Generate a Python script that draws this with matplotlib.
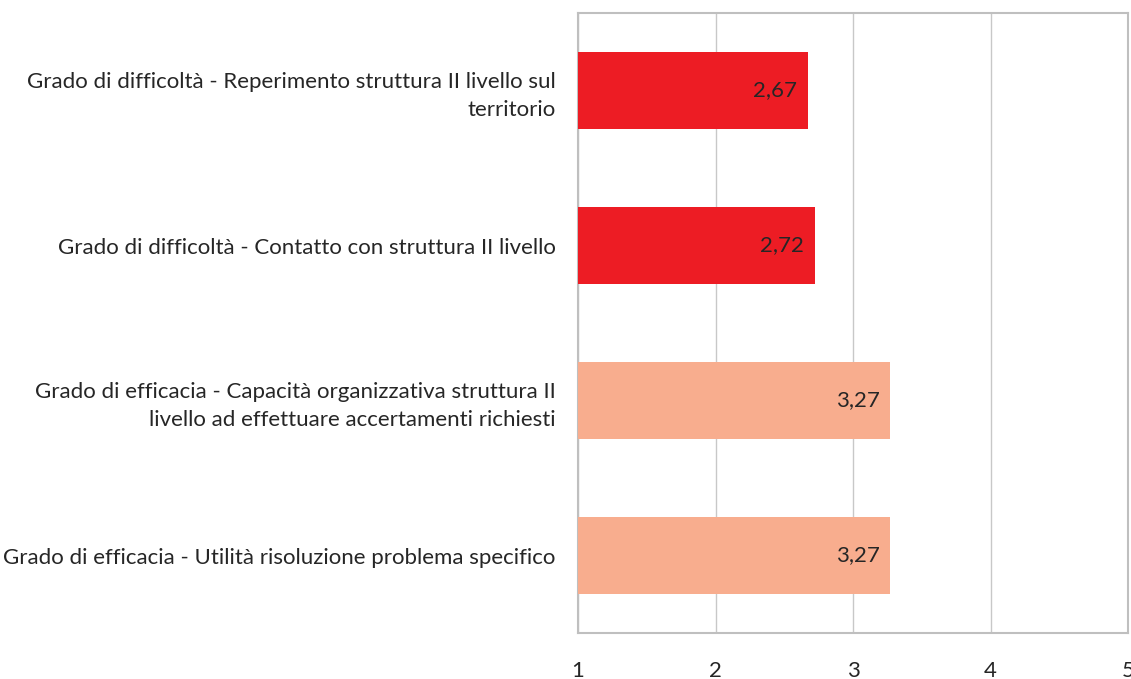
import matplotlib
matplotlib.use("Agg")
import matplotlib.pyplot as plt

categories = [
    "Grado di difficoltà - Reperimento struttura II livello sul\nterritorio",
    "Grado di difficoltà - Contatto con struttura II livello",
    "Grado di efficacia - Capacità organizzativa struttura II\nlivello ad effettuare accertamenti richiesti",
    "Grado di efficacia - Utilità risoluzione problema specifico",
]
values = [2.67, 2.72, 3.27, 3.27]
value_labels = ["2,67", "2,72", "3,27", "3,27"]
colors = ["#ED1C24", "#ED1C24", "#F8AD8E", "#F8AD8E"]
xticks = [1, 2, 3, 4, 5]

plt.rcParams['font.family'] = ['Lato', 'DejaVu Sans']

fig = plt.figure(figsize=(11.31, 6.79), dpi=100)
ax = fig.add_axes([578/1131, 1 - 633/679, (1128-578)/1131, (633-13)/679])

n = len(categories)
ypos = list(range(n))
ax.barh(ypos, [v - 1 for v in values], left=1, height=0.5, color=colors, zorder=3)
for y, v, lab in zip(ypos, values, value_labels):
    ax.text(v - 0.075, y, lab, ha='right', va='center', fontsize=16, color='#262626', zorder=4)

ax.set_xlim(1, 5)
ax.set_ylim(n - 0.5, -0.5)
ax.set_yticks(ypos)
ax.set_yticklabels(categories, fontsize=16, color='#262626', ha='right', linespacing=1.45)
ax.set_xticks(xticks)
ax.set_xticklabels([str(t) for t in xticks], fontsize=16, color='#262626')
ax.tick_params(axis='y', length=0, pad=16)
ax.tick_params(axis='x', length=0, pad=20)
ax.xaxis.grid(True, color='#C8C8C8', linewidth=1, zorder=0)
ax.set_axisbelow(True)
for s in ax.spines.values():
    s.set_color('#BFBFBF')
    s.set_linewidth(1.5)

fig.savefig("out.png", dpi=100)
